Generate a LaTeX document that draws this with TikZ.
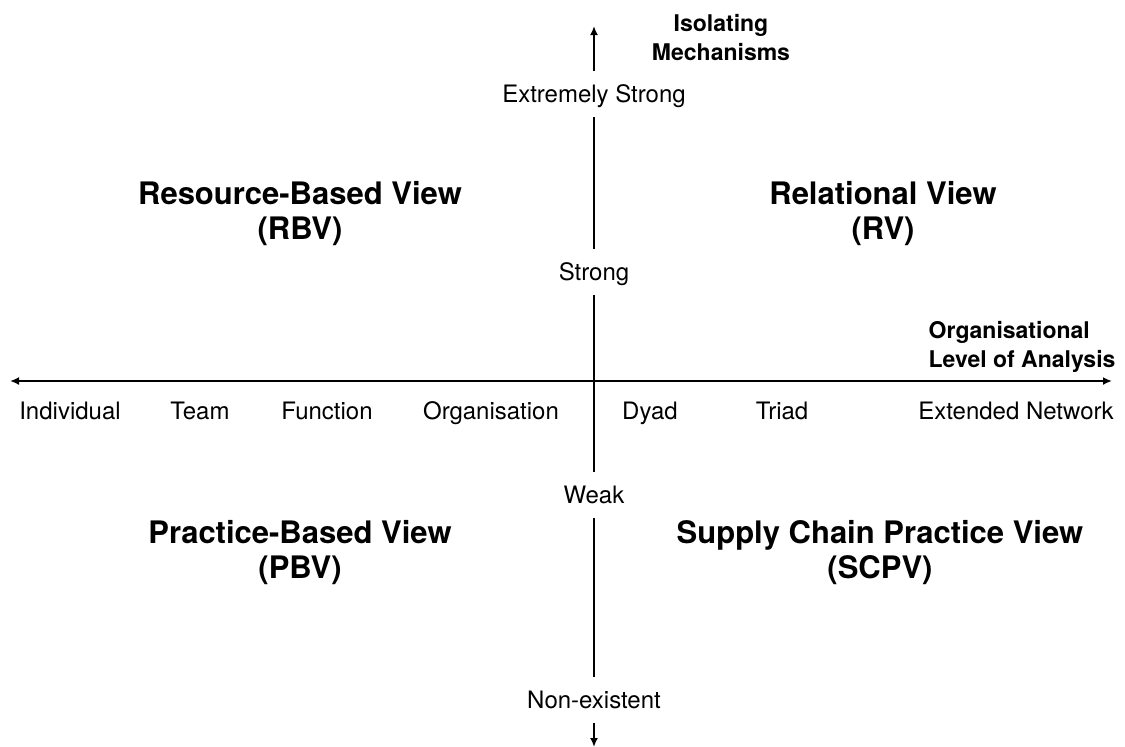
\documentclass[tikz,border=0pt]{standalone}
\usepackage{fontspec}
\setmainfont{TeX Gyre Heros}
\usetikzlibrary{arrows.meta}
\begin{document}
\begin{tikzpicture}[x=0.5pt,y=-0.5pt,line width=1pt,
	tip/.style={-{Latex[length=4.5pt,width=4pt]}},
	level/.style={font=\fontsize{12}{14}\selectfont, text height=11pt, text depth=3pt, inner ysep=4pt, inner xsep=0pt},
	unit/.style={font=\fontsize{12}{14}\selectfont, text height=9pt, text depth=3pt},
	axistitle/.style={font=\fontsize{11.5}{14.5}\selectfont\bfseries},
	view/.style={font=\fontsize{15.5}{17.5}\selectfont\bfseries, align=center}]
	\useasboundingbox (0,0) rectangle (1125,746);

	% Horizontal axis: organisational level
	\coordinate (west) at (10,381);
	\coordinate (east) at (1112,381);
	\draw[{Latex[length=4.5pt,width=4pt]}-{Latex[length=4.5pt,width=4pt]}] (west) -- (east);
	\node[axistitle, align=left, anchor=west] (orglevel) at (921,347) {Organisational\\Level of Analysis};

	% Units of analysis
	\node[unit] (individual) at (70,413) {Individual};
	\node[unit] (team) at (200,413) {Team};
	\node[unit] (function) at (327,413) {Function};
	\node[unit] (organisation) at (491,413) {Organisation};
	\node[unit] (dyad) at (650,413) {Dyad};
	\node[unit] (triad) at (782,413) {Triad};
	\node[unit] (network) at (1016,413) {Extended Network};

	% Vertical axis: isolating mechanisms
	\coordinate (north) at (594,26);
	\coordinate (south) at (594,747);
	\node[level] (xstrong) at (594,94) {Extremely Strong};
	\node[level] (strong) at (594,272) {Strong};
	\node[level] (weak) at (594,495) {Weak};
	\node[level] (none) at (594,700) {Non-existent};
	\draw[tip] (xstrong) -- (north);
	\draw (xstrong) -- (strong);
	\draw (strong) -- (weak);
	\draw (weak) -- (none);
	\draw[tip] (none) -- (south);
	\node[axistitle, align=center] (isolating) at (721,38) {Isolating\\Mechanisms};

	% Quadrants
	\node[view] (rbv) at (300,214) {Resource-Based View\\(RBV)};
	\node[view] (rv) at (883,214) {Relational View\\(RV)};
	\node[view] (pbv) at (300,553) {Practice-Based View\\(PBV)};
	\node[view] (scpv) at (880,553) {Supply Chain Practice View\\(SCPV)};
\end{tikzpicture}
\end{document}
